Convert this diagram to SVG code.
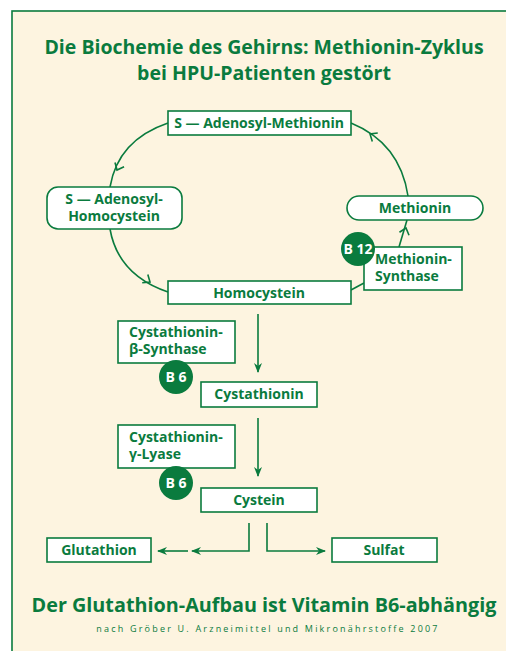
<svg xmlns="http://www.w3.org/2000/svg" width="506" height="651" viewBox="0 0 506 651">
<defs>
<style>
.box{fill:#fff;stroke:#0a7b3e;stroke-width:1.6}
.t{font-family:"Open Sans","Liberation Sans",sans-serif;font-weight:bold;fill:#0a7b3e;font-size:14px}
.c{text-anchor:middle}
.w{fill:#fff}
.ln{fill:none;stroke:#0a7b3e;stroke-width:1.6}
.dot{fill:#0a7b3e}
.ch{fill:none;stroke:#0a7b3e;stroke-width:1.6}
</style>
<marker id="ah" markerWidth="10" markerHeight="8" refX="9" refY="4" orient="auto" markerUnits="userSpaceOnUse">
<path d="M0,0 L10,4 L0,8 L3,4 Z" fill="#0a7b3e"/>
</marker>
</defs>
<rect x="0" y="0" width="506" height="651" fill="#fff"/>
<rect x="12" y="11" width="600" height="700" fill="#fdf4e0" stroke="#0a7b3e" stroke-width="1.6"/>
<g id="title">
<text class="t c" x="264" y="54" style="font-size:19.5px">Die Biochemie des Gehirns: Methionin-Zyklus</text>
<text class="t c" x="264" y="80" style="font-size:19.5px">bei HPU-Patienten gestört</text>
</g>
<g id="connectors">
<path class="ln" d="M168,123 Q118,140 110,187"/>
<path class="ln" d="M110,229 Q118,275 168,292"/>
<path class="ln" d="M408,196 Q400,143 351,123"/>
<path class="ln" d="M399,247 L407,220"/>
<path class="ln" d="M351,290 L364,283"/>
<path class="ch" d="M-6,-5 L0,0 L-6,5" transform="translate(117,170) rotate(115)"/>
<path class="ch" d="M-6,-5 L0,0 L-6,5" transform="translate(150,282) rotate(34)"/>
<path class="ch" d="M-6,-5 L0,0 L-6,5" transform="translate(370,134) rotate(213)"/>
<path class="ch" d="M-6,-5 L0,0 L-6,5" transform="translate(406,228) rotate(-73)"/>
<path class="ln" d="M258,314 L258,372" marker-end="url(#ah)"/>
<path class="ln" d="M258,418 L258,476" marker-end="url(#ah)"/>
<path class="ln" d="M249,523 L249,551 L192,551" marker-end="url(#ah)"/>
<path class="ln" d="M188,551 L158,551" marker-end="url(#ah)"/>
<path class="ln" d="M267,523 L267,551 L325,551" marker-end="url(#ah)"/>
</g>
<g id="sam">
<rect class="box" x="168" y="111" width="183" height="24"/>
<text class="t c" x="259" y="128">S — Adenosyl-Methionin</text>
</g>
<g id="sah">
<rect class="box" x="47" y="187" width="135" height="42" rx="11"/>
<text class="t c" x="114" y="204">S — Adenosyl-</text>
<text class="t c" x="114" y="221">Homocystein</text>
</g>
<g id="methionin">
<rect class="box" x="347" y="196" width="136" height="24" rx="12"/>
<text class="t c" x="415" y="213">Methionin</text>
</g>
<g id="msynthase">
<rect class="box" x="364" y="247" width="98" height="43"/>
<text class="t" x="375" y="264">Methionin-</text>
<text class="t" x="375" y="281">Synthase</text>
</g>
<g id="b12">
<circle class="dot" cx="358" cy="249" r="17"/>
<text class="t c w" x="358" y="254" style="font-size:14px">B 12</text>
</g>
<g id="homocystein">
<rect class="box" x="168" y="281" width="183" height="23"/>
<text class="t c" x="259" y="298">Homocystein</text>
</g>
<g id="cbs">
<rect class="box" x="118" y="321" width="117" height="42"/>
<text class="t" x="129" y="337">Cystathionin-</text>
<text class="t" x="129" y="354">β-Synthase</text>
</g>
<g id="b6a">
<circle class="dot" cx="176" cy="377" r="17"/>
<text class="t c w" x="176" y="382" style="font-size:14px">B 6</text>
</g>
<g id="cystathionin">
<rect class="box" x="201" y="382" width="116" height="25"/>
<text class="t c" x="259" y="399">Cystathionin</text>
</g>
<g id="cgl">
<rect class="box" x="118" y="425" width="117" height="43"/>
<text class="t" x="129" y="442">Cystathionin-</text>
<text class="t" x="129" y="459">γ-Lyase</text>
</g>
<g id="b6b">
<circle class="dot" cx="176" cy="483" r="17"/>
<text class="t c w" x="176" y="488" style="font-size:14px">B 6</text>
</g>
<g id="cystein">
<rect class="box" x="201" y="488" width="116" height="24"/>
<text class="t c" x="259" y="505">Cystein</text>
</g>
<g id="glutathion">
<rect class="box" x="47" y="538" width="104" height="24"/>
<text class="t c" x="99" y="555">Glutathion</text>
</g>
<g id="sulfat">
<rect class="box" x="332" y="538" width="105" height="24"/>
<text class="t c" x="384" y="555">Sulfat</text>
</g>
<g id="footer">
<text class="t c" x="264" y="612" style="font-size:19.8px">Der Glutathion-Aufbau ist Vitamin B6-abhängig</text>
<text class="t c" x="268" y="632" style="font-size:9px;font-weight:normal;letter-spacing:2.2px">nach Gröber U. Arzneimittel und Mikronährstoffe 2007</text>
</g>
</svg>
